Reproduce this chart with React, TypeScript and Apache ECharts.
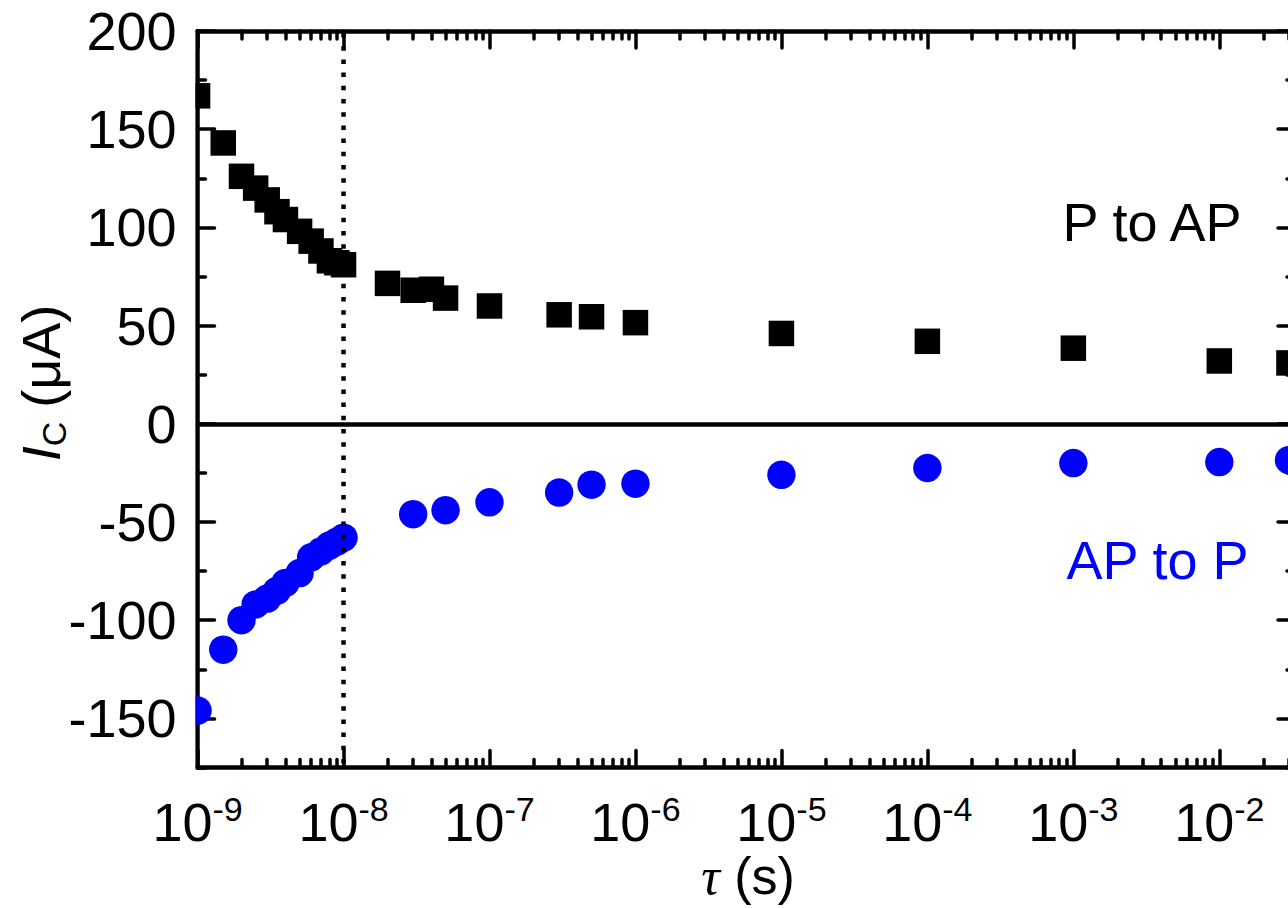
import React, { useEffect, useRef } from 'react';
import * as echarts from 'echarts';

// ---- data ----
const pToApTau = [1e-9, 1.5e-9, 2e-9, 2.5e-9, 3e-9, 3.5e-9, 4e-9, 5e-9, 6e-9, 7e-9, 8e-9, 9e-9, 1e-8, 2e-8, 3e-8, 4e-8, 5e-8, 1e-7, 3e-7, 5e-7, 1e-6, 1e-5, 1e-4, 1e-3, 1e-2, 3e-2];
const pToApIc = [167, 143, 126, 120, 114, 108, 104, 98, 93, 88, 83, 82, 81, 71.5, 68, 68.5, 64, 60, 55.5, 54.5, 51.5, 46, 42, 38.5, 32, 31];
const apToPTau = [1e-9, 1.5e-9, 2e-9, 2.5e-9, 3e-9, 3.5e-9, 4e-9, 5e-9, 6e-9, 7e-9, 8e-9, 9e-9, 1e-8, 3e-8, 5e-8, 1e-7, 3e-7, 5e-7, 1e-6, 1e-5, 1e-4, 1e-3, 1e-2, 3e-2];
const apToPIc = [-146, -115, -100, -92, -89, -85, -81, -76, -68, -65, -62, -60, -58, -46, -44, -40, -35, -31, -30.5, -26, -22.5, -20, -19.5, -18.5];

// ---- ticks ----
const X_MIN = 0.999e-9;
const X_MAX = 3.3e-2;
const xDecades = [1e-9, 1e-8, 1e-7, 1e-6, 1e-5, 1e-4, 1e-3, 1e-2];
const xMinorMultipliers = [2, 3, 4, 5, 6, 7, 8, 9];
const xMinorTicks = xDecades.flatMap((d) => xMinorMultipliers.map((m) => m * d)).filter((v) => v <= X_MAX);
const Y_MIN = -175;
const Y_MAX = 200;
const yMajorTicks = [-150, -100, -50, 0, 50, 100, 150, 200];
const yMinorTicks = [-175, -125, -75, -25, 25, 75, 125, 175];
const dividerTau = 1e-8;

const FONT = '"Liberation Sans", Arial, sans-serif';
const SERIF = '"Liberation Serif", "Times New Roman", serif';

export default function App() {
  const ref = useRef<HTMLDivElement>(null);

  useEffect(() => {
    const chart = echarts.init(ref.current as HTMLDivElement, null, { renderer: 'svg' });

    const lineStyle = { color: '#000', width: 4.5 };
    const tickStyle = { color: '#000', width: 3.5, cap: 'round' };

    const mkX = (position: string, ticks: number[], len: number, showLine: boolean, showLabel: boolean) => ({
      type: 'log',
      logBase: 10,
      min: X_MIN,
      max: X_MAX,
      position,
      axisLine: { show: showLine, onZero: false, lineStyle },
      axisTick: { show: true, inside: true, length: len, customValues: ticks, lineStyle: tickStyle },
      axisLabel: showLabel
        ? {
            show: true,
            customValues: ticks,
            margin: 24,
            formatter: (v: number) => `{b|10}{s|${Math.round(Math.log10(v))}}`,
            rich: {
              b: { fontSize: 54, fontFamily: FONT, color: '#000', lineHeight: 60 },
              s: { fontSize: 34, fontFamily: FONT, color: '#000', lineHeight: 14, verticalAlign: 'top' },
            },
          }
        : { show: false },
      splitLine: { show: false },
      minorTick: { show: false },
      minorSplitLine: { show: false },
    });

    const mkY = (position: string, ticks: number[], len: number, showLine: boolean, showLabel: boolean) => ({
      type: 'value',
      min: Y_MIN,
      max: Y_MAX,
      position,
      axisLine: { show: showLine, onZero: false, lineStyle },
      axisTick: { show: true, inside: true, length: len, customValues: ticks, lineStyle: tickStyle },
      axisLabel: showLabel
        ? { show: true, customValues: ticks, margin: 21, fontSize: 54, fontFamily: FONT, color: '#000' }
        : { show: false },
      splitLine: { show: false },
      minorTick: { show: false },
      minorSplitLine: { show: false },
    });

    chart.setOption({
      animation: false,
      backgroundColor: '#fff',
      grid: { left: 197.5, right: -7, top: 31, bottom: 140.5, containLabel: false, outerBoundsMode: 'none' },
      xAxis: [
        mkX('bottom', xDecades, 17, true, true),
        mkX('bottom', xMinorTicks, 8, false, false),
        mkX('top', xDecades, 17, true, false),
        mkX('top', xMinorTicks, 8, false, false),
      ],
      yAxis: [
        mkY('left', yMajorTicks, 17, true, true),
        mkY('left', yMinorTicks, 8, false, false),
        mkY('right', yMajorTicks, 17, true, false),
        mkY('right', yMinorTicks, 8, false, false),
      ],
      series: [
        {
          type: 'scatter',
          name: 'AP to P',
          xAxisIndex: 0,
          yAxisIndex: 0,
          data: apToPTau.map((t, i) => [t, apToPIc[i]]),
          symbol: 'circle',
          symbolSize: 28.5,
          itemStyle: { color: '#0000ff', opacity: 1 },
          z: 2,
          silent: true,
          markLine: {
            silent: true,
            symbol: ['none', 'none'],
            label: { show: false },
            emphasis: { disabled: true },
            data: [{ yAxis: 0, lineStyle: { color: '#000', width: 4.5, type: 'solid' } }],
          },
        },
        {
          type: 'line',
          name: 'divider',
          xAxisIndex: 0,
          yAxisIndex: 0,
          data: [
            [dividerTau, Y_MIN],
            [dividerTau, Y_MAX],
          ],
          showSymbol: false,
          symbol: 'none',
          z: 5,
          silent: true,
          lineStyle: { color: '#000', width: 4.5, type: [4.5, 8.7], dashOffset: -4 },
        },
        {
          type: 'scatter',
          name: 'P to AP',
          xAxisIndex: 0,
          yAxisIndex: 0,
          data: pToApTau.map((t, i) => [t, pToApIc[i]]),
          symbol: 'rect',
          symbolSize: 25.5,
          itemStyle: { color: '#000', opacity: 1 },
          z: 10,
          silent: true,
        },
      ],
      graphic: [
        { type: 'rect', z: 100, silent: true, shape: { x: 176.5, y: 20, width: 18.7, height: 760 }, style: { fill: '#fff' } },
        {
          type: 'text', z: 101, x: 1062.5, y: 221.5,
          style: { text: 'P to AP', fontSize: 54, fontFamily: FONT, fill: '#000', align: 'left', verticalAlign: 'middle' },
        },
        {
          type: 'text', z: 101, x: 1066.5, y: 560,
          style: { text: 'AP to P', fontSize: 54, fontFamily: FONT, fill: '#0000ff', align: 'left', verticalAlign: 'middle' },
        },
        {
          type: 'text', z: 101, x: 748, y: 876,
          style: {
            text: '{t|τ}{n| (s)}',
            align: 'center',
            verticalAlign: 'middle',
            rich: {
              t: { fontSize: 52, fontFamily: SERIF, fontStyle: 'italic', fill: '#000', lineHeight: 50 },
              n: { fontSize: 52, fontFamily: FONT, fill: '#000', lineHeight: 50 },
            },
          },
        },
        {
          type: 'text', z: 101, x: 41, y: 383, rotation: Math.PI / 2,
          style: {
            text: '{i|I}{c|C}{n|(μA)}',
            align: 'center',
            verticalAlign: 'middle',
            rich: {
              i: { fontSize: 54, fontFamily: FONT, fontStyle: 'italic', fill: '#000', lineHeight: 60 },
              c: { fontSize: 34, fontFamily: FONT, fill: '#000', lineHeight: 16, verticalAlign: 'bottom' },
              n: { fontSize: 54, fontFamily: FONT, fill: '#000', lineHeight: 60, padding: [0, 0, 0, 14] },
            },
          },
        },
      ],
    });

    return () => {
      chart.dispose();
    };
  }, []);

  return (
    <div
      ref={ref}
      style={{ position: 'fixed', left: 0, top: 0, width: 1288, height: 908, background: '#fff' }}
    />
  );
}
